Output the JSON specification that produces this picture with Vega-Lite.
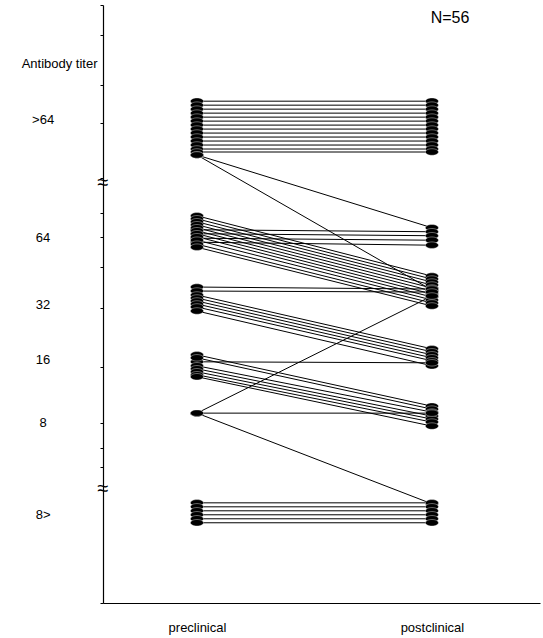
{
  "$schema": "https://vega.github.io/schema/vega-lite/v6.json",
  "width": 437,
  "height": 598,
  "autosize": {"type": "none"},
  "padding": {"left": 103, "top": 5, "right": 3, "bottom": 35},
  "background": "white",
  "config": {"view": {"stroke": null}, "font": "Liberation Sans", "axis": {"grid": false}},
  "datasets": {
    "titers": [
      {"patient": 1, "stage": 0, "titer": 10.07}, {"patient": 1, "stage": 1, "titer": 10.07},
      {"patient": 2, "stage": 0, "titer": 9.99}, {"patient": 2, "stage": 1, "titer": 9.99},
      {"patient": 3, "stage": 0, "titer": 9.91}, {"patient": 3, "stage": 1, "titer": 9.91},
      {"patient": 4, "stage": 0, "titer": 9.83}, {"patient": 4, "stage": 1, "titer": 9.83},
      {"patient": 5, "stage": 0, "titer": 9.75}, {"patient": 5, "stage": 1, "titer": 9.75},
      {"patient": 6, "stage": 0, "titer": 9.67}, {"patient": 6, "stage": 1, "titer": 9.67},
      {"patient": 7, "stage": 0, "titer": 9.59}, {"patient": 7, "stage": 1, "titer": 9.59},
      {"patient": 8, "stage": 0, "titer": 9.51}, {"patient": 8, "stage": 1, "titer": 9.51},
      {"patient": 9, "stage": 0, "titer": 9.43}, {"patient": 9, "stage": 1, "titer": 9.43},
      {"patient": 10, "stage": 0, "titer": 9.35}, {"patient": 10, "stage": 1, "titer": 9.35},
      {"patient": 11, "stage": 0, "titer": 9.27}, {"patient": 11, "stage": 1, "titer": 9.27},
      {"patient": 12, "stage": 0, "titer": 9.19}, {"patient": 12, "stage": 1, "titer": 9.19},
      {"patient": 13, "stage": 0, "titer": 9.11}, {"patient": 13, "stage": 1, "titer": 9.11},
      {"patient": 14, "stage": 0, "titer": 9.05}, {"patient": 14, "stage": 1, "titer": 9.05},
      {"patient": 15, "stage": 0, "titer": 8.99}, {"patient": 15, "stage": 1, "titer": 7.53},
      {"patient": 16, "stage": 0, "titer": 8.99}, {"patient": 16, "stage": 1, "titer": 6.28},
      {"patient": 17, "stage": 0, "titer": 7.49}, {"patient": 17, "stage": 1, "titer": 7.45},
      {"patient": 18, "stage": 0, "titer": 7.41}, {"patient": 18, "stage": 1, "titer": 7.37},
      {"patient": 19, "stage": 0, "titer": 7.32}, {"patient": 19, "stage": 1, "titer": 7.28},
      {"patient": 20, "stage": 0, "titer": 7.24}, {"patient": 20, "stage": 1, "titer": 7.18},
      {"patient": 21, "stage": 0, "titer": 7.77}, {"patient": 21, "stage": 1, "titer": 6.56},
      {"patient": 22, "stage": 0, "titer": 7.71}, {"patient": 22, "stage": 1, "titer": 6.50},
      {"patient": 23, "stage": 0, "titer": 7.65}, {"patient": 23, "stage": 1, "titer": 6.44},
      {"patient": 24, "stage": 0, "titer": 7.59}, {"patient": 24, "stage": 1, "titer": 6.38},
      {"patient": 25, "stage": 0, "titer": 7.53}, {"patient": 25, "stage": 1, "titer": 6.32},
      {"patient": 26, "stage": 0, "titer": 7.47}, {"patient": 26, "stage": 1, "titer": 6.26},
      {"patient": 27, "stage": 0, "titer": 7.41}, {"patient": 27, "stage": 1, "titer": 6.20},
      {"patient": 28, "stage": 0, "titer": 7.35}, {"patient": 28, "stage": 1, "titer": 6.14},
      {"patient": 29, "stage": 0, "titer": 7.28}, {"patient": 29, "stage": 1, "titer": 6.08},
      {"patient": 30, "stage": 0, "titer": 7.20}, {"patient": 30, "stage": 1, "titer": 6.02},
      {"patient": 31, "stage": 0, "titer": 7.14}, {"patient": 31, "stage": 1, "titer": 5.96},
      {"patient": 32, "stage": 0, "titer": 6.34}, {"patient": 32, "stage": 1, "titer": 6.30},
      {"patient": 33, "stage": 0, "titer": 6.26}, {"patient": 33, "stage": 1, "titer": 6.24},
      {"patient": 34, "stage": 0, "titer": 6.18}, {"patient": 34, "stage": 1, "titer": 5.10},
      {"patient": 35, "stage": 0, "titer": 6.12}, {"patient": 35, "stage": 1, "titer": 5.04},
      {"patient": 36, "stage": 0, "titer": 6.06}, {"patient": 36, "stage": 1, "titer": 4.98},
      {"patient": 37, "stage": 0, "titer": 6.00}, {"patient": 37, "stage": 1, "titer": 4.92},
      {"patient": 38, "stage": 0, "titer": 5.94}, {"patient": 38, "stage": 1, "titer": 4.86},
      {"patient": 39, "stage": 0, "titer": 5.86}, {"patient": 39, "stage": 1, "titer": 4.76},
      {"patient": 40, "stage": 0, "titer": 4.84}, {"patient": 40, "stage": 1, "titer": 4.82},
      {"patient": 41, "stage": 0, "titer": 4.98}, {"patient": 41, "stage": 1, "titer": 3.95},
      {"patient": 42, "stage": 0, "titer": 4.92}, {"patient": 42, "stage": 1, "titer": 3.89},
      {"patient": 43, "stage": 0, "titer": 4.76}, {"patient": 43, "stage": 1, "titer": 3.83},
      {"patient": 44, "stage": 0, "titer": 4.70}, {"patient": 44, "stage": 1, "titer": 3.75},
      {"patient": 45, "stage": 0, "titer": 4.64}, {"patient": 45, "stage": 1, "titer": 3.69},
      {"patient": 46, "stage": 0, "titer": 4.58}, {"patient": 46, "stage": 1, "titer": 3.63},
      {"patient": 47, "stage": 0, "titer": 4.54}, {"patient": 47, "stage": 1, "titer": 3.55},
      {"patient": 48, "stage": 0, "titer": 3.81}, {"patient": 48, "stage": 1, "titer": 3.81},
      {"patient": 49, "stage": 0, "titer": 3.81}, {"patient": 49, "stage": 1, "titer": 6.16},
      {"patient": 50, "stage": 0, "titer": 3.81}, {"patient": 50, "stage": 1, "titer": 1.99},
      {"patient": 51, "stage": 0, "titer": 2.01}, {"patient": 51, "stage": 1, "titer": 2.01},
      {"patient": 52, "stage": 0, "titer": 1.93}, {"patient": 52, "stage": 1, "titer": 1.93},
      {"patient": 53, "stage": 0, "titer": 1.85}, {"patient": 53, "stage": 1, "titer": 1.85},
      {"patient": 54, "stage": 0, "titer": 1.77}, {"patient": 54, "stage": 1, "titer": 1.77},
      {"patient": 55, "stage": 0, "titer": 1.69}, {"patient": 55, "stage": 1, "titer": 1.69},
      {"patient": 56, "stage": 0, "titer": 1.61}, {"patient": 56, "stage": 1, "titer": 1.61}
    ],
    "levels": [
      {"titer": 9.69, "label": ">64"},
      {"titer": 7.32, "label": "64"},
      {"titer": 5.98, "label": "32"},
      {"titer": 4.88, "label": "16"},
      {"titer": 3.61, "label": "8"},
      {"titer": 1.77, "label": "8>"}
    ],
    "breaks": [
      {"titer": 8.43, "glyph": "≈"},
      {"titer": 2.28, "glyph": "≈"}
    ],
    "note": [{"stage": 1.077, "titer": 11.73, "label": "N=56"}]
  },
  "layer": [
    {
      "data": {"name": "titers"},
      "mark": {"type": "line", "color": "black", "strokeWidth": 1},
      "encoding": {
        "x": {
          "field": "stage", "type": "quantitative",
          "scale": {"domain": [-0.4, 1.46], "nice": false, "zero": false},
          "axis": {
            "values": [0, 1],
            "labelExpr": "datum.value == 0 ? 'preclinical' : 'postclinical'",
            "ticks": false, "tickSize": 0, "labelPadding": 18,
            "labelFontSize": 13, "labelColor": "black", "labelFlush": false,
            "domainColor": "black", "domainWidth": 1.2, "title": null
          }
        },
        "y": {
          "field": "titer", "type": "quantitative",
          "scale": {"domain": [0, 12], "nice": false, "zero": false},
          "axis": {
            "values": [12, 11.7, 11.4, 11.04, 10.4, 9.89, 9.63, 9.19, 8.53, 7.99, 7.83, 7.63, 7.34, 7.12, 6.74, 6.38, 5.92, 5.22, 4.74, 4.01, 3.61, 3.37, 3.11, 2.91, 2.73, 1.2, 0],
            "labels": false,
            "tickSize": 3, "tickColor": "black", "tickWidth": 1,
            "domainColor": "black", "domainWidth": 1.2,
            "title": "Antibody titer", "titleAngle": 0, "titleAlign": "right", "titleBaseline": "middle",
            "titleX": -6, "titleY": 58, "titleFontSize": 13, "titleFontWeight": "normal", "titleColor": "black"
          }
        },
        "detail": {"field": "patient", "type": "nominal"}
      }
    },
    {
      "data": {"name": "titers"},
      "mark": {"type": "point", "shape": "M -1 0 A 1 0.5 0 1 1 1 0 A 1 0.5 0 1 1 -1 0 Z", "filled": true, "color": "black", "stroke": "white", "strokeWidth": 0.4, "size": 170, "opacity": 1},
      "encoding": {
        "x": {"field": "stage", "type": "quantitative"},
        "y": {"field": "titer", "type": "quantitative"}
      }
    },
    {
      "data": {"name": "levels"},
      "mark": {"type": "text", "fontSize": 13, "align": "center", "baseline": "middle", "color": "black"},
      "encoding": {
        "x": {"datum": -0.655, "type": "quantitative"},
        "y": {"field": "titer", "type": "quantitative"},
        "text": {"field": "label"}
      }
    },
    {
      "data": {"name": "breaks"},
      "mark": {"type": "text", "fontSize": 20, "align": "center", "baseline": "middle", "color": "black"},
      "encoding": {
        "x": {"datum": -0.4, "type": "quantitative"},
        "y": {"field": "titer", "type": "quantitative"},
        "text": {"field": "glyph"}
      }
    },
    {
      "data": {"name": "note"},
      "mark": {"type": "text", "fontSize": 16, "align": "center", "baseline": "middle", "color": "black"},
      "encoding": {
        "x": {"field": "stage", "type": "quantitative"},
        "y": {"field": "titer", "type": "quantitative"},
        "text": {"field": "label"}
      }
    }
  ]
}
